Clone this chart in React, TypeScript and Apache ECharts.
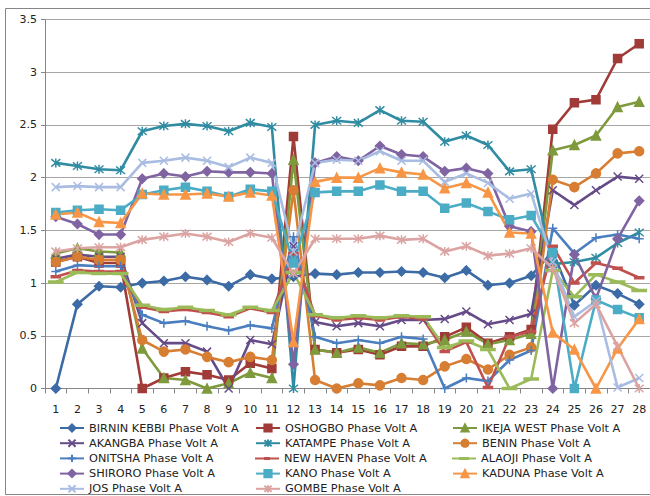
import React, { useEffect, useRef } from 'react';
import * as echarts from 'echarts';

const CATEGORIES = ['1', '2', '3', '4', '5', '6', '7', '8', '9', '10', '11', '12', '13', '14', '15', '16', '17', '18', '19', '20', '21', '22', '23', '24', '25', '26', '27', '28'];

const BIRNIN_KEBBI = [0, 0.8, 0.97, 0.96, 1.0, 1.02, 1.06, 1.03, 0.97, 1.08, 1.04, 1.06, 1.09, 1.08, 1.1, 1.1, 1.11, 1.1, 1.05, 1.12, 0.98, 1.0, 1.07, 1.3, 0.79, 0.98, 0.9, 0.8];
const OSHOGBO = [1.2, 1.25, 1.19, 1.19, 0, 0.1, 0.16, 0.13, 0.08, 0.24, 0.19, 2.39, 0.37, 0.34, 0.37, 0.32, 0.4, 0.4, 0.49, 0.58, 0.43, 0.49, 0.56, 2.46, 2.71, 2.74, 3.13, 3.27];
const IKEJA_WEST = [1.28, 1.33, 1.3, 1.29, 0.38, 0.1, 0.08, 0, 0.05, 0.15, 0.1, 2.17, 0.37, 0.34, 0.39, 0.34, 0.43, 0.42, 0.46, 0.54, 0.42, 0.46, 0.52, 2.26, 2.31, 2.4, 2.67, 2.72];
const AKANGBA = [1.23, 1.27, 1.25, 1.25, 0.62, 0.43, 0.43, 0.35, 0, 0.46, 0.42, 1.35, 0.63, 0.59, 0.62, 0.59, 0.65, 0.65, 0.66, 0.73, 0.61, 0.65, 0.71, 1.88, 1.74, 1.88, 2.01, 1.99];
const KATAMPE = [2.14, 2.11, 2.08, 2.07, 2.44, 2.49, 2.51, 2.49, 2.44, 2.52, 2.48, 0, 2.5, 2.54, 2.52, 2.64, 2.54, 2.53, 2.34, 2.4, 2.31, 2.06, 2.08, 1.18, 1.2, 1.24, 1.38, 1.48];
const BENIN = [1.2, 1.25, 1.22, 1.22, 0.46, 0.35, 0.37, 0.3, 0.25, 0.3, 0.27, 1.88, 0.08, 0, 0.05, 0.03, 0.1, 0.08, 0.21, 0.28, 0.18, 0.32, 0.39, 1.98, 1.91, 2.04, 2.23, 2.25];
const ONITSHA = [1.11, 1.17, 1.16, 1.16, 0.7, 0.62, 0.64, 0.59, 0.55, 0.6, 0.57, 1.44, 0.49, 0.43, 0.46, 0.43, 0.49, 0.47, 0, 0.1, 0.07, 0.27, 0.36, 1.52, 1.28, 1.43, 1.46, 1.42];
const NEW_HAVEN = [1.06, 1.12, 1.11, 1.11, 0.77, 0.73, 0.75, 0.72, 0.68, 0.76, 0.72, 1.28, 0.69, 0.65, 0.67, 0.65, 0.68, 0.66, 0.35, 0.44, 0.01, 0.49, 0.54, 1.35, 1.0, 1.19, 1.14, 1.05];
const ALAOJI = [1.01, 1.1, 1.09, 1.09, 0.79, 0.75, 0.77, 0.74, 0.7, 0.77, 0.74, 1.1, 0.7, 0.67, 0.69, 0.67, 0.69, 0.68, 0.39, 0.45, 0.37, 0, 0.09, 1.12, 0.87, 1.08, 1.01, 0.93];
const SHIRORO = [1.63, 1.56, 1.46, 1.46, 1.99, 2.04, 2.01, 2.06, 2.05, 2.05, 2.04, 0.23, 2.14, 2.2, 2.16, 2.3, 2.22, 2.2, 2.06, 2.09, 2.04, 1.54, 1.49, 0, 1.27, 0.85, 1.42, 1.78];
const KANO = [1.67, 1.69, 1.7, 1.69, 1.84, 1.88, 1.91, 1.87, 1.82, 1.89, 1.87, 1.19, 1.86, 1.87, 1.87, 1.93, 1.87, 1.87, 1.71, 1.76, 1.68, 1.6, 1.64, 1.29, 0, 0.84, 0.75, 0.67];
const KADUNA = [1.65, 1.67, 1.58, 1.57, 1.85, 1.84, 1.84, 1.85, 1.82, 1.86, 1.83, 0.44, 1.96, 2.0, 2.0, 2.09, 2.05, 2.03, 1.9, 1.95, 1.86, 1.48, 1.47, 0.53, 0.37, 0, 0.38, 0.66];
const JOS = [1.91, 1.92, 1.91, 1.91, 2.14, 2.16, 2.19, 2.16, 2.1, 2.19, 2.14, 1.3, 2.14, 2.17, 2.16, 2.25, 2.16, 2.16, 1.96, 2.04, 1.95, 1.8, 1.85, 1.2, 0.68, 0.83, 0.01, 0.1];
const GOMBE = [1.3, 1.33, 1.34, 1.34, 1.41, 1.44, 1.47, 1.44, 1.39, 1.47, 1.43, 1.09, 1.42, 1.42, 1.42, 1.45, 1.41, 1.42, 1.3, 1.35, 1.26, 1.28, 1.33, 1.14, 0.62, 0.8, 0.4, 0];

const SYM_X = 'path://M0,0L10,10M10,0L0,10';
const SYM_STAR = 'path://M0,0L10,10M10,0L0,10M5,-1L5,11';
const SYM_PLUS = 'path://M5,0L5,10M0,5L10,5';
// legend key for the dash-marker series: a thin line with a short dash in the middle
const KEY_DASH_SHORT = 'path://M0,2L24,2L24,4L0,4ZM9,1.5L15,1.5L15,4.5L9,4.5Z';
const KEY_DASH_LONG = 'path://M0,2L24,2L24,4L0,4ZM7,1.5L17,1.5L17,4.5L7,4.5Z';

// name, values, colour, marker, marker size, custom legend key
const SERIES_DEFS: [string, number[], string, string, number | number[], string | null][] = [
  ['BIRNIN KEBBI Phase Volt A', BIRNIN_KEBBI, '#3C6BA6', 'diamond', 9, null],
  ['OSHOGBO Phase Volt A', OSHOGBO, '#A13B38', 'rect', 8, null],
  ['IKEJA WEST Phase Volt A', IKEJA_WEST, '#7E9A3C', 'triangle', 9, null],
  ['AKANGBA Phase Volt A', AKANGBA, '#654B88', SYM_X, 8, null],
  ['KATAMPE Phase Volt A', KATAMPE, '#2F8CA2', SYM_STAR, 9, null],
  ['BENIN Phase Volt A', BENIN, '#D77E33', 'circle', 9, null],
  ['ONITSHA Phase Volt A', ONITSHA, '#4A7EBF', SYM_PLUS, 9, null],
  ['NEW HAVEN Phase Volt A', NEW_HAVEN, '#C0504D', 'rect', [6, 2], KEY_DASH_SHORT],
  ['ALAOJI Phase Volt A', ALAOJI, '#9BBB59', 'rect', [9, 2], KEY_DASH_LONG],
  ['SHIRORO Phase Volt A', SHIRORO, '#8064A2', 'diamond', 9, null],
  ['KANO Phase Volt A', KANO, '#4BACC6', 'rect', 8, null],
  ['KADUNA Phase Volt A', KADUNA, '#F79646', 'triangle', 9, null],
  ['JOS Phase Volt A', JOS, '#A9BCE2', SYM_X, 8, null],
  ['GOMBE Phase Volt A', GOMBE, '#DBA3A1', SYM_STAR, 9, null],
];

const FONT = 'DejaVu Sans';
const COL_LEFT = [59, 255, 452];
const ROW_CENTER0 = 428;
const ROW_STEP = 15.2;

export default function App() {
  const ref = useRef<HTMLDivElement>(null);

  useEffect(() => {
    document.body.style.margin = '0';
    if (!ref.current) return;
    const chart = echarts.init(ref.current, undefined, { renderer: 'svg' });

    const series = SERIES_DEFS.map(([name, data, color, symbol, size]) => ({
      name,
      type: 'line',
      data,
      symbol,
      symbolSize: size,
      showAllSymbol: true,
      lineStyle: { color, width: 2.6 },
      itemStyle: { color, borderColor: color, borderWidth: 1.5 },
      emphasis: { disabled: true },
    }));

    const legends = SERIES_DEFS.map(([name, , color, , , key], i) => {
      const col = i % 3;
      const row = Math.floor(i / 3);
      return {
        data: [key ? { name, icon: key, itemStyle: { color, borderWidth: 0 } } : name],
        orient: 'vertical',
        left: COL_LEFT[col],
        top: ROW_CENTER0 + ROW_STEP * row - 7,
        padding: 0,
        itemWidth: 24,
        itemHeight: 9,
        selectedMode: false,
        textStyle: { fontFamily: FONT, fontSize: 11.3, color: '#222', lineHeight: 14 },
      };
    });

    chart.setOption({
      animation: false,
      backgroundColor: '#fff',
      textStyle: { fontFamily: FONT },
      grid: { left: 45, right: 0, top: 19.5, bottom: 107.5, containLabel: false },
      xAxis: {
        type: 'category',
        data: CATEGORIES,
        boundaryGap: true,
        axisLine: { lineStyle: { color: '#868686', width: 1 } },
        axisTick: { show: true, length: 5, lineStyle: { color: '#868686' } },
        axisLabel: { fontFamily: FONT, fontSize: 11, color: '#222', margin: 15, interval: 0 },
      },
      yAxis: {
        type: 'value',
        min: 0,
        max: 3.5,
        interval: 0.5,
        axisLine: { show: true, lineStyle: { color: '#868686', width: 1 } },
        axisTick: { show: true, length: 4, lineStyle: { color: '#868686' } },
        axisLabel: { fontFamily: FONT, fontSize: 11, color: '#222', margin: 8 },
        splitLine: { lineStyle: { color: '#a6a6a6', width: 1 } },
      },
      legend: legends,
      graphic: [
        {
          type: 'rect',
          shape: { x: 5.5, y: 8.5, width: 700, height: 486 },
          style: { fill: 'none', stroke: '#868686', lineWidth: 1 },
          silent: true,
          z: -1,
        },
      ],
      series,
    });

    return () => chart.dispose();
  }, []);

  return <div ref={ref} style={{ width: 650, height: 496 }} />;
}
